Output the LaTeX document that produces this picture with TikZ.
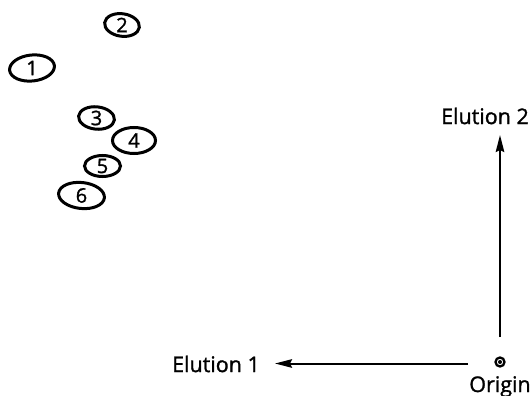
\documentclass[tikz,border=0pt]{standalone}
\usepackage{fontspec}
\setmainfont{Open Sans}
\newfontfamily\labelfont[FakeBold=1.3]{Open Sans}
\usetikzlibrary{arrows.meta,shapes.geometric}
\begin{document}
\begin{tikzpicture}[x=1pt,y=-1pt,
  spot/.style={draw,line width=3pt,ellipse,inner sep=0pt,font=\labelfont\fontsize{20}{20}\selectfont},
  axis/.style={line width=2pt,-{Stealth[length=17pt,width=8.5pt,inset=2pt]}},
  lab/.style={font=\labelfont\fontsize{21.5}{21.5}\selectfont,inner sep=0pt}]
\useasboundingbox (0,0) rectangle (531,396);
% spots on the plate
\node[spot,minimum width=35pt,minimum height=22pt,rotate=-8] (s2) at (122,25) {\rotatebox{8}{2}};
\node[spot,minimum width=45pt,minimum height=26pt,rotate=6] (s1) at (32,68) {\rotatebox{-6}{1}};
\node[spot,minimum width=36pt,minimum height=21pt,rotate=-6] (s3) at (96.5,118) {\rotatebox{6}{3}};
\node[spot,minimum width=43pt,minimum height=26pt] (s4) at (134,140.5) {4};
\node[spot,minimum width=36pt,minimum height=21pt] (s5) at (102.5,166) {5};
\node[spot,minimum width=46pt,minimum height=26pt,rotate=-6] (s6) at (81.5,195.5) {\rotatebox{6}{6}};
% origin mark
\node[draw,circle,line width=2.3pt,minimum size=9pt,inner sep=0pt] (o) at (500,362) {};
\fill (o.center) circle (2pt);
\node[lab,anchor=base] (olab) at (500,392) {Origin};
% axes
\coordinate (vs) at (500,337);
\coordinate (vt) at (500,135);
\coordinate (hs) at (468,363.5);
\coordinate (ht) at (275,363.5);
\node[lab] (e2) at (485,116) {Elution 2};
\node[lab] (e1) at (216,364) {Elution 1};
\draw[axis] (vs) -- (vt);
\draw[axis] (hs) -- (ht);
\end{tikzpicture}
\end{document}
